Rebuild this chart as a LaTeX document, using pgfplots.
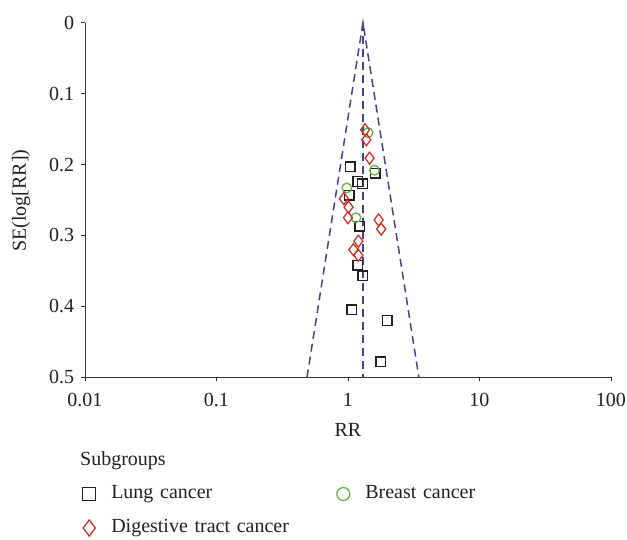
\documentclass[border=0pt]{standalone}
\usepackage{fontspec}
\setmainfont{Liberation Serif}
\usepackage{pgfplots}
\pgfplotsset{compat=1.18}
\definecolor{sqc}{RGB}{35,31,32}
\definecolor{dic}{RGB}{196,52,44}
\definecolor{cic}{RGB}{106,178,70}
\definecolor{fun}{RGB}{72,64,140}
\definecolor{axc}{RGB}{50,50,50}
\definecolor{txc}{RGB}{35,31,32}
\pgfplotsset{mk/.style={only marks, legend image code/.code={\draw[mark repeat=2,mark phase=2,##1, every mark/.append style={scale=1.35}] plot coordinates {(-1pt,0pt) (0pt,0pt) (1pt,0pt)};}}}
\begin{document}
\fontsize{20}{24}\selectfont
\color{txc}
\begin{tikzpicture}
\useasboundingbox (-85pt,-162.7pt) rectangle (542pt,377.3pt);
\begin{axis}[
 at={(0pt,0pt)}, anchor=south west,
 scale only axis, width=526pt, height=354.6pt,
 xmode=log, xmin=0.01, xmax=100, ymin=0, ymax=0.5, y dir=reverse,
 axis x line*=bottom, axis y line*=left,
 axis line style={axc, line width=0.9pt, -},
 tick style={axc, line width=0.9pt},
 tick align=outside, major tick length=4pt,
 xtick={0.01,0.1,1,10,100}, xticklabels={0.01,0.1,1,10,100},
 ytick={0,0.1,0.2,0.3,0.4,0.5}, yticklabels={0,0.1,0.2,0.3,0.4,0.5},
 xminorticks=false, yminorticks=false,
 xticklabel style={yshift=-5pt},
 xlabel={RR}, ylabel={SE(log[RR])},
 xlabel style={at={(axis description cs:0.5,-0.168)}, anchor=base, inner sep=0pt},
 ylabel style={at={(axis description cs:-0.1217,0.498)}, anchor=center, inner sep=0pt},
 clip=false,
 legend columns=2,
 legend cell align=left,
 legend style={at={(0,0)}, anchor=north west, xshift=-2.2pt, yshift=-107.2pt,
   draw=none, fill=none, inner sep=0pt, outer sep=0pt, row sep=15pt,
   nodes={inner sep=0pt, text width=220pt, align=left, text height=14pt, text depth=5pt},
   /tikz/every odd column/.append style={column sep=15.5pt},
   /tikz/every even column/.append style={column sep=5.6pt}},
]
\addplot[fun, line width=1.5pt, dash pattern=on 8pt off 5pt, forget plot] coordinates {(0.488,0.5) (1.30,0) (3.46,0.5)};
\addplot[fun, line width=1.5pt, dash pattern=on 8pt off 5pt, forget plot] coordinates {(1.30,0) (1.30,0.5)};

\addplot[mk, mark=square, mark size=4.8pt, color=sqc, mark options={line width=1.4pt, fill=none}] coordinates {
(1.04,0.203) (1.61,0.212) (1.19,0.224) (1.29,0.227) (1.02,0.243) (1.23,0.287)
(1.19,0.342) (1.30,0.357) (1.07,0.405) (1.99,0.420) (1.78,0.478)};
\addlegendentry{Lung cancer}

\addplot[mk, mark=o, mark size=4.8pt, color=cic, mark options={line width=1.3pt, fill=none}] coordinates {
(1.42,0.155) (1.59,0.208) (0.98,0.233) (1.15,0.275)};
\addlegendentry{Breast cancer}

\addplot[mk, mark=diamond, mark size=6pt, color=dic, mark options={line width=1.3pt, fill=none}] coordinates {
(1.35,0.151) (1.38,0.165) (1.46,0.191) (0.93,0.248) (1.01,0.260) (1.00,0.275)
(1.71,0.278) (1.79,0.291) (1.20,0.308) (1.10,0.320) (1.20,0.328)};
\addlegendentry{Digestive tract cancer}

\node[anchor=base west, inner sep=0pt] at (axis description cs:-0.0095,-0.2501) {Subgroups};
\end{axis}
\end{tikzpicture}
\end{document}
